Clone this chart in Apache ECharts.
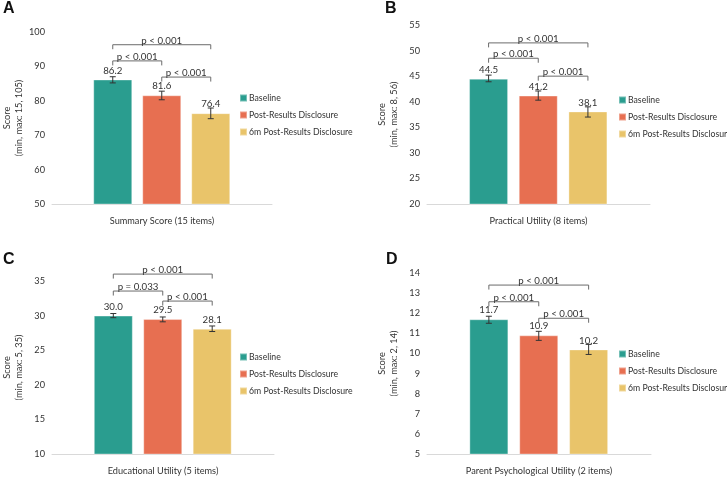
<!DOCTYPE html>
<html>
<head>
<meta charset="utf-8">
<script src="https://cdn.jsdelivr.net/npm/echarts@6/dist/echarts.min.js"></script>
<style>html,body{margin:0;padding:0;background:#fff}#c{width:727px;height:477px}</style>
</head>
<body>
<div id="c"></div>
<script>
// ---------- DATA ----------
const groups = ['Baseline', 'Post-Results Disclosure', '6m Post-Results Disclosure'];
const panelLetters = ['A', 'B', 'C', 'D'];
const xTitles = ['Summary Score (15 items)', 'Practical Utility (8 items)', 'Educational Utility (5 items)', 'Parent Psychological Utility (2 items)'];
const yTitles = ['Score\n(min, max: 15, 105)', 'Score\n(min, max: 8, 56)', 'Score\n(min, max: 5, 35)', 'Score\n(min, max: 2, 14)'];
const meansA = [86.2, 81.6, 76.4];
const meansB = [44.5, 41.2, 38.1];
const meansC = [30.0, 29.5, 28.1];
const meansD = [11.7, 10.9, 10.2];
const lowA = [85.2, 80.3, 74.8], highA = [87.0, 82.8, 77.9];
const lowB = [43.9, 40.3, 37.0], highB = [45.2, 42.1, 39.0];
const lowC = [29.7, 29.1, 27.7], highC = [30.3, 29.8, 28.5];
const lowD = [11.5, 10.65, 9.95], highD = [11.85, 11.1, 10.45];
const yMins = [50, 20, 10, 5];
const yMaxs = [100, 55, 35, 14];
const ySteps = [10, 5, 5, 1];
const bracketPairs = [[0, 2], [0, 1], [1, 2]];
const bracketHeightsA = [96.3, 91.6, 86.9];
const bracketHeightsB = [51.5, 48.5, 45.0];
const bracketHeightsC = [36.0, 33.55, 32.1];
const bracketHeightsD = [13.4, 12.57, 11.75];
const pLabelsA = ['p < 0.001', 'p < 0.001', 'p < 0.001'];
const pLabelsB = ['p < 0.001', 'p < 0.001', 'p < 0.001'];
const pLabelsC = ['p < 0.001', 'p = 0.033', 'p < 0.001'];
const pLabelsD = ['p < 0.001', 'p < 0.001', 'p < 0.001'];

// ---------- STYLE / LAYOUT ----------
const colors = ['#2A9D8F', '#E76F51', '#E9C46A'];
const FONT = 'Lato, "Noto Sans", sans-serif';
const TXT = '#333333';
const FS = 9.2;
const LFS = 8.7;
const grids = [
  {left: 50, top: 32, width: 222, height: 172},
  {left: 427, top: 25, width: 223, height: 179},
  {left: 47, top: 281, width: 227, height: 173},
  {left: 427, top: 273, width: 224, height: 185}
];
const legendPos = [
  {left: 239, top: 92}, {left: 618, top: 94}, {left: 239, top: 351}, {left: 618, top: 348}
];
const letterPos = [[3, 1], [385, 1], [3, 252], [386, 252]];
const xRange = [-1.24, 3.25];

const allMeans = [meansA, meansB, meansC, meansD];
const allLow = [lowA, lowB, lowC, lowD];
const allHigh = [highA, highB, highC, highD];
const allBr = [bracketHeightsA, bracketHeightsB, bracketHeightsC, bracketHeightsD];
const allP = [pLabelsA, pLabelsB, pLabelsC, pLabelsD];

const chart = echarts.init(document.getElementById('c'), null, {renderer: 'canvas'});

const option = {
  backgroundColor: '#fff',
  animation: false,
  grid: grids.map(g => Object.assign({containLabel: false}, g)),
  xAxis: grids.map((g, i) => ({
    gridIndex: i, type: 'value', min: xRange[0], max: xRange[1],
    axisLine: {show: true, onZero: false, lineStyle: {color: '#d9d9d9', width: 1}},
    axisTick: {show: false}, axisLabel: {show: false}, splitLine: {show: false},
    name: xTitles[i], nameLocation: 'middle', nameGap: 13,
    nameTextStyle: {fontFamily: FONT, fontSize: FS, color: TXT}
  })),
  yAxis: grids.map((g, i) => ({
    gridIndex: i, type: 'value', min: yMins[i], max: yMaxs[i], interval: ySteps[i],
    axisLine: {show: false}, axisTick: {show: false}, splitLine: {show: false},
    axisLabel: {fontFamily: FONT, fontSize: FS, color: TXT, margin: 7},
    name: yTitles[i], nameLocation: 'middle', nameRotate: 90, nameGap: 27,
    nameTextStyle: {fontFamily: FONT, fontSize: FS, color: TXT, lineHeight: 12, align: 'center'}
  })),
  legend: legendPos.map(p => ({
    data: groups, orient: 'vertical', left: p.left, top: p.top, padding: 0,
    icon: 'rect', itemWidth: 7, itemHeight: 7, itemGap: 5, selectedMode: false,
    textStyle: {fontFamily: FONT, fontSize: LFS, color: TXT, lineHeight: 12, padding: [0, 0, 0, -3]}
  })),
  graphic: panelLetters.map((L, i) => ({
    type: 'text', left: letterPos[i][0], top: letterPos[i][1],
    style: {text: L, font: 'bold 16px "Liberation Sans", Arial, sans-serif', fill: '#111'}
  })),
  series: []
};

for (let p = 0; p < 4; p++) {
  groups.forEach((name, k) => {
    option.series.push({
      type: 'bar', name: name, xAxisIndex: p, yAxisIndex: p,
      barWidth: 39, barGap: '-100%',
      data: [[k, allMeans[p][k]]],
      itemStyle: {color: colors[k], borderColor: 'rgba(255,255,255,0.35)', borderWidth: 1},
      label: {show: true, position: 'top', distance: 4, fontFamily: FONT, fontSize: FS + 0.5, color: TXT,
        formatter: prm => prm.value[1].toFixed(1)}
    });
  });
  // error bars
  option.series.push({
    type: 'custom', xAxisIndex: p, yAxisIndex: p, z: 5,
    data: groups.map((g, k) => [k, allLow[p][k], allHigh[p][k]]),
    renderItem: (params, api) => {
      const lo = api.coord([api.value(0), api.value(1)]);
      const hi = api.coord([api.value(0), api.value(2)]);
      const c = 3;
      const st = {stroke: '#333', lineWidth: 1, fill: null};
      return {type: 'group', children: [
        {type: 'line', shape: {x1: lo[0], y1: lo[1], x2: hi[0], y2: hi[1]}, style: st},
        {type: 'line', shape: {x1: lo[0] - c, y1: lo[1], x2: lo[0] + c, y2: lo[1]}, style: st},
        {type: 'line', shape: {x1: hi[0] - c, y1: hi[1], x2: hi[0] + c, y2: hi[1]}, style: st}
      ]};
    }
  });
  // significance brackets
  const labels = allP[p];
  option.series.push({
    type: 'custom', xAxisIndex: p, yAxisIndex: p, z: 6, clip: false,
    data: bracketPairs.map((pr, j) => [pr[0], pr[1], allBr[p][j]]),
    renderItem: (params, api) => {
      const a = api.coord([api.value(0), api.value(2)]);
      const b = api.coord([api.value(1), api.value(2)]);
      const t = 4.5;
      return {type: 'group', children: [
        {type: 'polyline', shape: {points: [[a[0], a[1] + t], [a[0], a[1]], [b[0], b[1]], [b[0], b[1] + t]]},
          style: {stroke: '#6b6b6b', lineWidth: 1, fill: null}},
        {type: 'text', x: (a[0] + b[0]) / 2, y: a[1] - 4,
          style: {text: labels[params.dataIndex], textAlign: 'center', textVerticalAlign: 'middle',
            fontFamily: FONT, fontSize: FS + 0.5, fill: TXT}}
      ]};
    }
  });
}

chart.setOption(option);
</script>
</body>
</html>
